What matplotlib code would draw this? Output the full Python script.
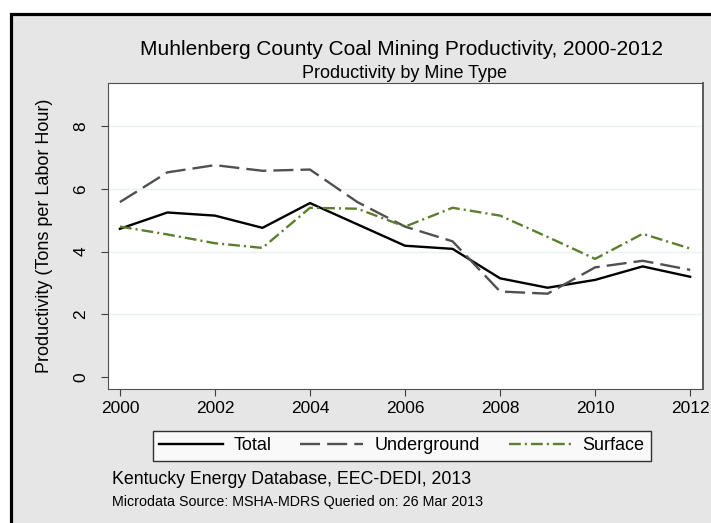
import matplotlib
matplotlib.use("Agg")
import matplotlib.pyplot as plt
from matplotlib.patches import Rectangle

plt.rcParams['font.family'] = ['Liberation Sans', 'DejaVu Sans']

# data
years = [2000, 2001, 2002, 2003, 2004, 2005, 2006, 2007, 2008, 2009, 2010, 2011, 2012]
total = [4.73, 5.25, 5.15, 4.76, 5.55, 4.87, 4.19, 4.09, 3.15, 2.85, 3.10, 3.53, 3.20]
underground = [5.58, 6.53, 6.76, 6.58, 6.62, 5.58, 4.80, 4.33, 2.73, 2.66, 3.50, 3.71, 3.42]
surface = [4.80, 4.55, 4.27, 4.12, 5.40, 5.37, 4.80, 5.40, 5.15, 4.47, 3.77, 4.57, 4.10]

x_ticks = [2000, 2002, 2004, 2006, 2008, 2010, 2012]
y_ticks = [0, 2, 4, 6, 8]

bg = '#e6e6e6'
green = '#5b7f2e'
dgray = '#505050'

fig = plt.figure(figsize=(7.11, 5.23), dpi=100)
fig.patch.set_facecolor('white')

# outer gray panel with black border (cut off on right and bottom)
W, H = 711.0, 523.0
fig.patches.append(Rectangle((10.5 / W, -0.05), 1.1, 1.05 - 13.5 / H,
                             transform=fig.transFigure, facecolor=bg,
                             edgecolor='black', linewidth=2.3, zorder=-10))

ax = fig.add_axes([108 / W, 1 - 389 / H, (703 - 108) / W, (389 - 83) / H])
ax.set_zorder(2)
ax.set_facecolor('white')

for g in [2, 4, 6, 8]:
    ax.axhline(g, color='#eaf1f3', linewidth=1.0, zorder=1)

ax.plot(years, total, color='black', linewidth=1.7, label='Total', zorder=3)
ax.plot(years, underground, color=dgray, linewidth=1.7, dashes=(8.5, 3),
        label='Underground', zorder=3)
ax.plot(years, surface, color=green, linewidth=1.7, dashes=(5, 1.7, 0.9, 1.7),
        label='Surface', zorder=3)

ax.set_xlim(1999.75, 2012.27)
ax.set_ylim(-0.38, 9.38)
ax.set_xticks(x_ticks)
ax.set_yticks(y_ticks)
ax.tick_params(axis='both', direction='out', length=5, width=0.8, colors='#404040',
               labelcolor='black', labelsize=12.5)
ax.tick_params(axis='y', pad=9)
for lab in ax.get_yticklabels():
    lab.set_rotation(90)
    lab.set_va('center')
for s in ax.spines.values():
    s.set_color('#505050')
    s.set_linewidth(0.8)
ax.spines['right'].set_linewidth(1.3)

ax.set_ylabel('Productivity (Tons per Labor Hour)', fontsize=13, labelpad=15)

fig.text(402 / W, 1 - 49 / H, 'Muhlenberg County Coal Mining Productivity, 2000-2012',
         ha='center', va='center', fontsize=15)
fig.text(405 / W, 1 - 74 / H, 'Productivity by Mine Type',
         ha='center', va='center', fontsize=13)

leg = fig.legend(loc='center', bbox_to_anchor=(402 / W, 1 - 446 / H), ncol=3,
                 fontsize=13, frameon=True, fancybox=False, handlelength=3.5,
                 columnspacing=1.6, handletextpad=0.6, borderpad=0.35)
leg.get_frame().set_edgecolor('black')
leg.get_frame().set_linewidth(1.0)
leg.get_frame().set_facecolor('white')

fig.text(112 / W, 1 - 480 / H, 'Kentucky Energy Database, EEC-DEDI, 2013',
         ha='left', va='center', fontsize=12.8)
fig.text(112 / W, 1 - 502 / H, 'Microdata Source: MSHA-MDRS Queried on: 26 Mar 2013',
         ha='left', va='center', fontsize=10.3)

fig.savefig('out.png', dpi=100)
